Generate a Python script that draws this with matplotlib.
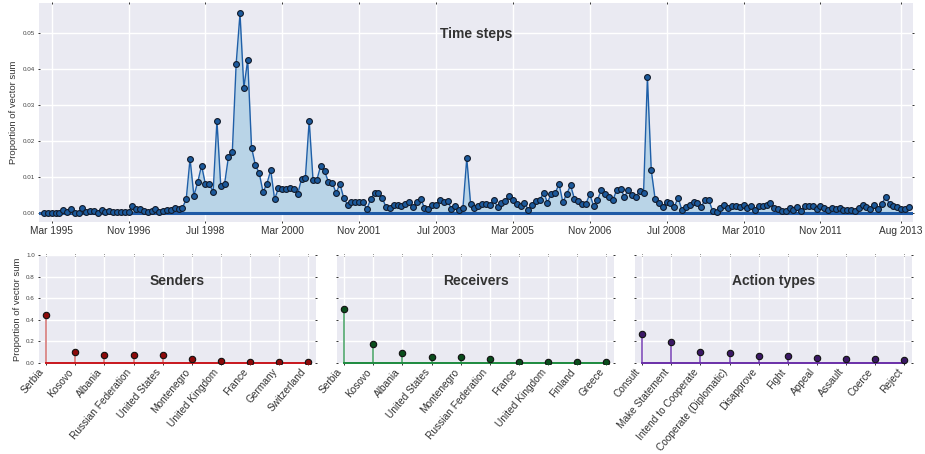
import numpy as np
import pandas as pd
import matplotlib
matplotlib.use("Agg")
import matplotlib.pyplot as plt

plt.rcParams['font.family'] = ['Liberation Sans', 'DejaVu Sans']

# monthly proportions, Jan 1995 .. Oct 2013
timeVals = [
    0, 0, 0, 0, 0, 0.0007, 0.0003, 0.0009, 0, 0,
    0.0014, 0.0002, 0.0005, 0.0005, 0, 0.0008, 0.0002, 0.0005, 0.0002, 0.0003,
    0.0003, 0.0003, 0.0003, 0.0018, 0.0011, 0.0011, 0.0005, 0.0003, 0.0005, 0.0010,
    0.0003, 0.0005, 0.0006, 0.0006, 0.0013, 0.0009, 0.0013, 0.0037, 0.0150, 0.0047,
    0.0085, 0.0131, 0.0079, 0.0081, 0.0057, 0.0256, 0.0073, 0.0081, 0.0156, 0.0169,
    0.0414, 0.0554, 0.0347, 0.0425, 0.0181, 0.0132, 0.0110, 0.0057, 0.0081, 0.0118,
    0.0037, 0.0068, 0.0067, 0.0067, 0.0069, 0.0065, 0.0051, 0.0094, 0.0096, 0.0256,
    0.0090, 0.0091, 0.0131, 0.0115, 0.0086, 0.0083, 0.0055, 0.0080, 0.0040, 0.0022,
    0.0029, 0.0029, 0.0031, 0.0030, 0.0010, 0.0037, 0.0056, 0.0056, 0.0041, 0.0015,
    0.0014, 0.0022, 0.0022, 0.0019, 0.0023, 0.0031, 0.0017, 0.0030, 0.0037, 0.0014,
    0.0011, 0.0021, 0.0020, 0.0036, 0.0031, 0.0033, 0.0010, 0.0018, 0.0006, 0.0013,
    0.0151, 0.0024, 0.0013, 0.0018, 0.0025, 0.0024, 0.0021, 0.0034, 0.0017, 0.0028,
    0.0033, 0.0047, 0.0034, 0.0024, 0.0019, 0.0028, 0.0008, 0.0022, 0.0033, 0.0035,
    0.0056, 0.0028, 0.0053, 0.0054, 0.0080, 0.0029, 0.0052, 0.0076, 0.0039, 0.0032,
    0.0025, 0.0025, 0.0051, 0.0019, 0.0036, 0.0062, 0.0051, 0.0044, 0.0034, 0.0063,
    0.0067, 0.0044, 0.0062, 0.0048, 0.0044, 0.0061, 0.0056, 0.0377, 0.0118, 0.0038,
    0.0028, 0.0016, 0.0031, 0.0027, 0.0017, 0.0041, 0.0006, 0.0017, 0.0022, 0.0031,
    0.0026, 0.0016, 0.0036, 0.0034, 0.0004, 0.0002, 0.0014, 0.0022, 0.0013, 0.0019,
    0.0019, 0.0017, 0.0020, 0.0012, 0.0018, 0.0007, 0.0019, 0.0019, 0.0020, 0.0028,
    0.0014, 0.0009, 0.0004, 0.0005, 0.0014, 0.0007, 0.0016, 0.0005, 0.0018, 0.0018,
    0.0018, 0.0011, 0.0019, 0.0014, 0.0008, 0.0014, 0.0011, 0.0014, 0.0007, 0.0007,
    0.0007, 0.0005, 0.0014, 0.0021, 0.0016, 0.0011, 0.0021, 0.0011, 0.0025, 0.0044,
    0.0025, 0.0018, 0.0015, 0.0011, 0.0011, 0.0017,
]
months = pd.date_range("1995-01-01", periods=len(timeVals), freq="MS")
tickIdx = [2, 22, 42, 62, 82, 102, 122, 142, 162, 182, 202, 223]

senders = ["Serbia", "Kosovo", "Albania", "Russian Federation", "United States",
           "Montenegro", "United Kingdom", "France", "Germany", "Switzerland"]
senderVals = [0.44, 0.10, 0.07, 0.07, 0.07, 0.03, 0.013, 0.01, 0.01, 0.01]

receivers = ["Serbia", "Kosovo", "Albania", "United States", "Montenegro",
             "Russian Federation", "France", "United Kingdom", "Finland", "Greece"]
receiverVals = [0.50, 0.17, 0.09, 0.05, 0.05, 0.037, 0.01, 0.01, 0.01, 0.01]

actions = ["Consult", "Make Statement", "Intend to Cooperate", "Cooperate (Diplomatic)",
           "Disapprove", "Fight", "Appeal", "Assault", "Coerce", "Reject"]
actionVals = [0.27, 0.19, 0.10, 0.09, 0.06, 0.06, 0.04, 0.03, 0.03, 0.025]

bg = "#eaeaf2"


def style_ax(ax):
    ax.set_facecolor(bg)
    for s in ax.spines.values():
        s.set_visible(False)
    ax.grid(True, color="white", lw=1.0)
    ax.set_axisbelow(True)
    ax.tick_params(direction="inout", length=2.0, width=0.7, color="#333333",
                   top=True, right=True, labelsize=4.5, labelcolor="#444444", pad=2)


fig = plt.figure(figsize=(9.25, 4.54), dpi=100)

# time steps
ax = fig.add_axes([39/925, 1-222/454, 874/925, 219/454])
style_ax(ax)
x = np.arange(len(timeVals))
ax.fill_between(x, 0, timeVals, color="#b9d4e7", lw=0)
ax.axhline(0, color="#1f5aa6", lw=2.2, zorder=2)
ax.plot(x, timeVals, color="#1f5fa8", lw=1.0, marker="o", ms=4.2,
        mfc="#1c5a9c", mec="#111a2a", mew=0.8, zorder=3)
ax.set_xlim(-1.3, 226.1)
ax.set_ylim(-0.0026, 0.0583)
ax.set_yticks([0, 0.01, 0.02, 0.03, 0.04, 0.05])
ax.set_yticklabels(["%.2f" % v for v in [0, 0.01, 0.02, 0.03, 0.04, 0.05]])
ax.set_xticks(tickIdx)
ax.set_xticklabels([months[i].strftime("%b %Y") for i in tickIdx])
ax.tick_params(axis="x", labelsize=7.3, labelcolor="#333333", pad=2)
ax.set_ylabel("Proportion of vector sum", fontsize=6.8, color="#333333", labelpad=3)
ax.text(0.5, 0.86, "Time steps", transform=ax.transAxes, ha="center", va="center",
        fontsize=10, fontweight="bold", color="#333333")

panels = [
    (senders, senderVals, "Senders", 39, "#d98585", "#c8161d", "#8c0a0a"),
    (receivers, receiverVals, "Receivers", 337, "#5fae7a", "#1c8a3e", "#0a4d1c"),
    (actions, actionVals, "Action types", 635, "#8a5cbf", "#6a2fa8", "#3b1866"),
]
for k, (cats, vals, title, left, stemCol, baseCol, markCol) in enumerate(panels):
    bx = fig.add_axes([left/925, 1-364/454, 277/925, 109/454])
    style_ax(bx)
    pos = np.arange(len(cats))
    bx.vlines(pos, 0, vals, color=stemCol, lw=1.3, zorder=2)
    bx.plot([pos[0], pos[-1]], [0, 0], color=baseCol, lw=1.4, zorder=2)
    bx.plot(pos, vals, "o", ms=4.6, mfc=markCol, mec="#111111", mew=0.8, zorder=3)
    bx.set_xlim(-0.25, 9.27)
    bx.set_ylim(-0.012, 1.0)
    bx.set_yticks([0, 0.2, 0.4, 0.6, 0.8, 1.0])
    bx.set_xticks(pos)
    bx.set_xticklabels(cats, rotation=50, ha="right")
    bx.tick_params(axis="x", labelsize=7.3, labelcolor="#333333", pad=1)
    if k == 0:
        bx.set_yticklabels(["0.0", "0.2", "0.4", "0.6", "0.8", "1.0"])
        bx.set_ylabel("Proportion of vector sum", fontsize=6.8, color="#333333", labelpad=3)
    else:
        bx.set_yticklabels([])
    bx.text(0.5, 0.76, title, transform=bx.transAxes, ha="center", va="center",
            fontsize=10, fontweight="bold", color="#333333")

fig.savefig("out.png", dpi=100)
